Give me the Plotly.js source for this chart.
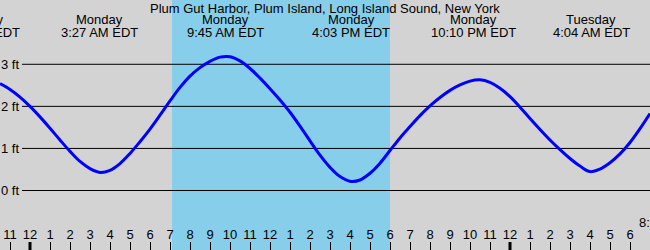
<!DOCTYPE html>
<html>
<head>
<meta charset="utf-8">
<script src="https://cdn.plot.ly/plotly-3.0.1.min.js"></script>
<style>html,body{margin:0;padding:0;background:#d3d3d3;}#chart{width:650px;height:250px;}</style>
</head>
<body>
<div id="chart"></div>
<script>
// Hours from Monday 00:00 (EDT) and tide height in feet
const hours = [-1.5,-1.0,-0.5,0,0.5,1.0,1.5,2.0,2.5,3.0,3.5,4.0,4.5,5.0,5.5,6.0,6.5,7.0,7.5,8.0,8.5,9.0,9.5,10.0,10.5,11.0,11.5,12.0,12.5,13.0,13.5,14.0,14.5,15.0,15.5,16.0,16.5,17.0,17.5,18.0,18.5,19.0,19.5,20.0,20.5,21.0,21.5,22.0,22.5,23.0,23.5,24.0,24.5,25.0,25.5,26.0,26.5,27.0,27.5,28.0,28.5,29.0,29.5,30.0,30.5,31.0];
const heights = [2.54,2.40,2.22,2.00,1.75,1.48,1.20,0.93,0.69,0.52,0.43,0.48,0.64,0.88,1.16,1.46,1.79,2.13,2.45,2.72,2.92,3.07,3.17,3.18,3.08,2.90,2.67,2.42,2.15,1.86,1.53,1.18,0.84,0.55,0.33,0.22,0.25,0.41,0.65,0.95,1.25,1.52,1.78,2.01,2.21,2.38,2.51,2.60,2.63,2.57,2.43,2.23,1.98,1.71,1.45,1.20,0.97,0.76,0.58,0.45,0.51,0.66,0.87,1.14,1.47,1.83];

// High/low tide events
const eventHours = [-2.45, 3.45, 9.75, 16.05, 22.17, 28.07];
const eventDays = ['Sunday','Monday','Monday','Monday','Monday','Tuesday'];
const eventTimes = ['9:33 PM EDT','3:27 AM EDT','9:45 AM EDT','4:03 PM EDT','10:10 PM EDT','4:04 AM EDT'];

// Daylight
const sunrise = 7.1;
const sunset = 18.0;

// Axes
const xRange = [-1.5, 31];
const hourTicks = [-1,0,1,2,3,4,5,6,7,8,9,10,11,12,13,14,15,16,17,18,19,20,21,22,23,24,25,26,27,28,29,30,31];
const hourLabels = ['11','12','1','2','3','4','5','6','7','8','9','10','11','12','1','2','3','4','5','6','7','8','9','10','11','12','1','2','3','4','5','6','7'];
const midnights = [0, 24];
const ftTicks = [0,1,2,3];
const ftLabels = ['0 ft','1 ft','2 ft','3 ft'];

const titleText = 'Plum Gut Harbor, Plum Island, Long Island Sound, New York';

const W = 650, H = 250;
const font = {family: '"Liberation Sans", Arial, sans-serif', size: 13, color: '#000'};
const toPaperX = h => (h - xRange[0]) / (xRange[1] - xRange[0]);

const shapes = [];
shapes.push({type:'rect', xref:'x', yref:'paper', x0:sunrise, x1:sunset, y0:0, y1:1, fillcolor:'#87ceeb', line:{width:0}, layer:'below'});
ftTicks.forEach(v => shapes.push({type:'line', xref:'paper', yref:'y', x0:22/W, x1:1, y0:v, y1:v, line:{color:'#000', width:1}, layer:'below'}));
midnights.forEach(m => shapes.push({type:'line', xref:'x', yref:'paper', x0:m, x1:m, y0:0, y1:8/H, line:{color:'#000', width:3}, layer:'above'}));

const annotations = [];
annotations.push({xref:'paper', yref:'paper', x:0.5, y:1-8/H, text:titleText, showarrow:false, font:font, xanchor:'center', yanchor:'middle'});
eventHours.forEach((h,i) => {
  annotations.push({xref:'paper', yref:'paper', x:toPaperX(h), y:1-20/H, text:eventDays[i], showarrow:false, font:font, xanchor:'center', yanchor:'middle'});
  annotations.push({xref:'paper', yref:'paper', x:toPaperX(h), y:1-32/H, text:eventTimes[i], showarrow:false, font:font, xanchor:'center', yanchor:'middle'});
});
ftTicks.forEach((v,i) => annotations.push({xref:'paper', yref:'y', x:21/W, y:v, text:ftLabels[i], showarrow:false, font:font, xanchor:'right', yanchor:'middle'}));
annotations.push({xref:'paper', yref:'paper', x:637/W, y:1-222/H, text:'8:', showarrow:false, font:font, xanchor:'left', yanchor:'middle'});

const trace = {x: hours, y: heights, type:'scatter', mode:'lines', line:{color:'#0000ff', width:3, shape:'spline', smoothing:1}, hoverinfo:'skip'};

const layout = {
  width: W, height: H,
  margin: {l:0, r:0, t:0, b:0, pad:0},
  paper_bgcolor: '#d3d3d3', plot_bgcolor: '#d3d3d3',
  showlegend: false,
  font: font,
  xaxis: {range: xRange, showgrid:false, zeroline:false, showline:false,
    tickmode:'array', tickvals: hourTicks, ticktext: hourLabels,
    ticks:'inside', ticklen:8, tickwidth:1, tickcolor:'#000',
    ticklabelposition:'inside', tickfont: font, fixedrange:true},
  yaxis: {range: [-1.414, 4.528], showgrid:false, zeroline:false, showline:false, showticklabels:false, ticks:'', fixedrange:true},
  shapes: shapes,
  annotations: annotations
};

Plotly.newPlot('chart', [trace], layout, {staticPlot:true, displayModeBar:false});
</script>
</body>
</html>
